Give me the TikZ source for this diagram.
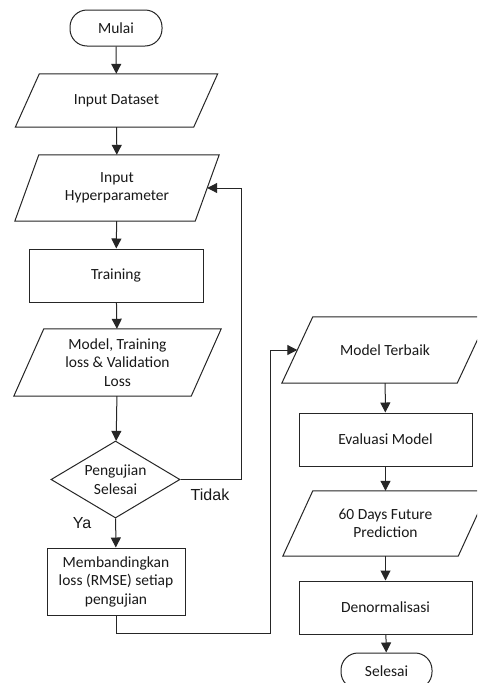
\documentclass[tikz,border=0pt]{standalone}
\usepackage{fontspec}
\setmainfont{Carlito}
\newfontfamily\labfont{Liberation Sans}
\usetikzlibrary{shapes.geometric,arrows.meta,calc}
\tikzset{
  ln/.style={line width=1pt, draw=black!85},
  arr/.style={ln, -{Triangle[length=10pt,width=10pt]}},
  txt/.style={font=\fontsize{15.5}{18.5}\selectfont, align=center, inner sep=0pt, text=black!90},
  proc/.style={txt, rectangle, ln},
  term/.style={txt, rectangle, rounded corners=17pt, ln},
  lbl/.style={font=\labfont\fontsize{16}{19}\selectfont, inner sep=0pt, text=black!90},
}
\newcommand\mypara[7]{%
  \node[txt, minimum width=#4pt, minimum height=#5pt] (#1) at (#2,#3) {#7};
  \draw[ln] ($(#1.north west)+(#6,0)$) -- ($(#1.north east)+(#6,0)$) --
    ($(#1.south east)+(-#6,0)$) -- ($(#1.south west)+(-#6,0)$) -- cycle;}
\begin{document}
\begin{tikzpicture}[x=1pt,y=-1pt]
\useasboundingbox (0,0) rectangle (477,683);
\clip (0,0) rectangle (477,683);
\fill[white] (0,0) rectangle (477,683);

% left column
\node[term, minimum width=92pt, minimum height=36pt] (start) at (116,28) {Mulai};
\mypara{data}{116.5}{100.5}{178}{53}{12}{Input Dataset}
\mypara{hyp}{117}{188}{180}{66}{12}{Input\\Hyperparameter}
\node[proc, minimum width=174pt, minimum height=53pt] (train) at (116,275.5) {Training};
\mypara{res}{117.5}{362.5}{177}{67}{15}{Model, Training\\loss \& Validation\\Loss}
\node[txt, diamond, ln, aspect=1.7, minimum width=129pt, minimum height=77pt] (dia) at (115.5,479.5) {Pengujian\\Selesai};
\node[proc, minimum width=138pt, minimum height=67pt] (cmp) at (116,581.5) {Membandingkan\\loss (RMSE) setiap\\pengujian};

% right column
\mypara{best}{385}{350}{175}{66}{15.5}{Model Terbaik}
\node[proc, minimum width=173pt, minimum height=53pt] (eval) at (385.5,439.5) {Evaluasi Model};
\mypara{pred}{385.5}{523.5}{175}{65}{15}{60 Days Future\\Prediction}
\node[proc, minimum width=173pt, minimum height=53pt] (denorm) at (385.5,607.5) {Denormalisasi};
\node[term, minimum width=91pt, minimum height=36pt] (end) at (386.5,671) {Selesai};

% labels
\node[lbl] (tidak) at (210,495) {Tidak};
\node[lbl] (ya) at (82,523) {Ya};

% connectors
\draw[arr] (start) -- (data);
\draw[arr] (data) -- (hyp);
\draw[arr] (hyp) -- (train);
\draw[arr] (train) -- (res);
\draw[arr] (res) -- (dia);
\draw[arr] (dia) -- (cmp);
\coordinate (fb) at (241,188);
\draw[arr] (dia.east) -| (fb) -- (hyp.east);
\coordinate (jn) at (270,633);
\draw[arr] (cmp.south) |- (jn) |- (best.west);
\draw[arr] (best) -- (eval);
\draw[arr] (eval) -- (pred);
\draw[arr] (pred) -- (denorm);
\draw[arr] (denorm) -- (end);
\end{tikzpicture}
\end{document}
